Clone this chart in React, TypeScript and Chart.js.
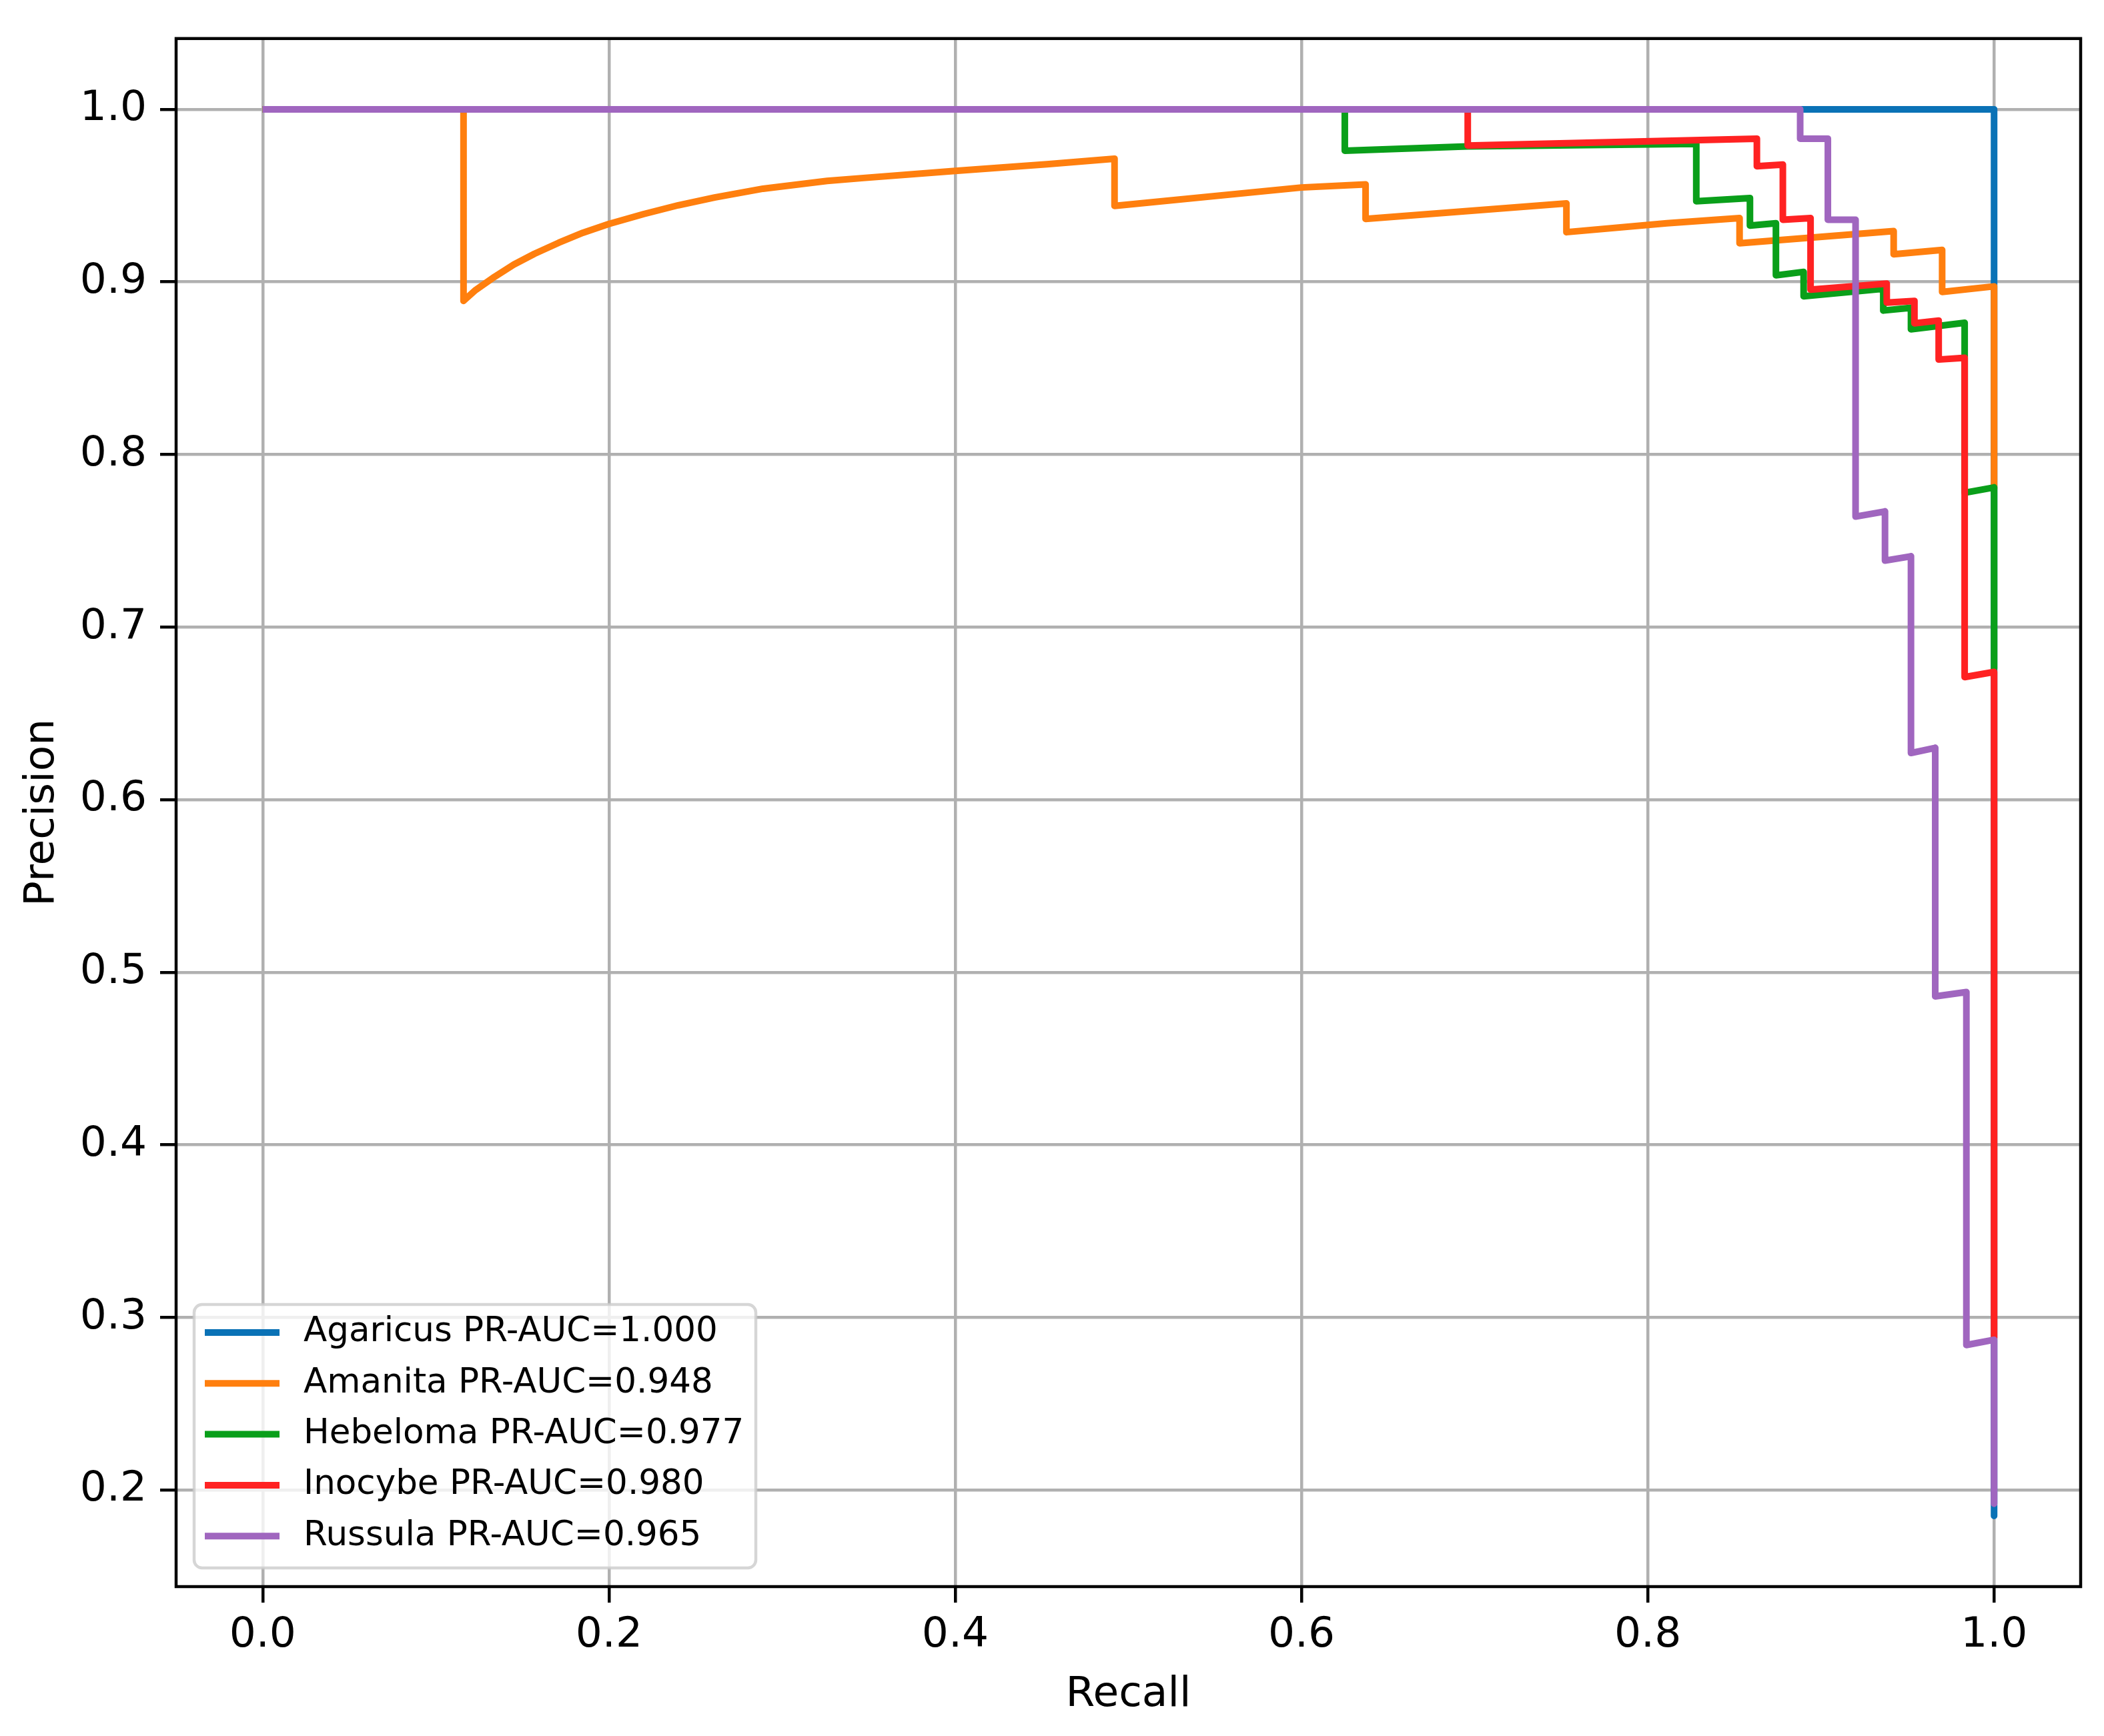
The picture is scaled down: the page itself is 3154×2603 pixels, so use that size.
import React, { useEffect, useRef } from "react";
import { Chart, registerables } from "chart.js";

Chart.register(...registerables);

// axis ticks
const xTicks = [0.0, 0.2, 0.4, 0.6, 0.8, 1.0];
const yTicks = [0.2, 0.3, 0.4, 0.5, 0.6, 0.7, 0.8, 0.9, 1.0];

// series: recall (x) and precision (y)
const agaricusRecall = [0, 1.0, 1.0];
const agaricusPrecision = [1.0, 1.0, 0.185];

const amanitaRecall = [
  0, 0.116, 0.116, 0.123, 0.134, 0.145, 0.157, 0.171, 0.185, 0.2, 0.22, 0.24, 0.261, 0.289, 0.326, 0.347,
  0.4, 0.453, 0.492, 0.492, 0.6, 0.637, 0.637, 0.753, 0.753, 0.811, 0.853, 0.853, 0.942, 0.942, 0.97, 0.97,
  1.0, 1.0,
];
const amanitaPrecision = [
  1.0, 1.0, 0.889, 0.8953, 0.903, 0.91, 0.9163, 0.9227, 0.9285, 0.9336, 0.9393, 0.9444, 0.9489, 0.954, 0.9585,
  0.9602, 0.9643, 0.9682, 0.9714, 0.944, 0.9547, 0.9565, 0.9365, 0.9455, 0.9288, 0.934, 0.937, 0.9224, 0.9294,
  0.916, 0.9185, 0.8942, 0.8974, 0.78,
];

const hebelomaRecall = [
  0, 0.625, 0.625, 0.696, 0.828, 0.828, 0.859, 0.859, 0.874, 0.874, 0.89, 0.89, 0.936, 0.936, 0.952,
  0.952, 0.983, 0.983, 1.0, 1.0,
];
const hebelomaPrecision = [
  1.0, 1.0, 0.976, 0.9785, 0.98, 0.9467, 0.9486, 0.9326, 0.934, 0.9038, 0.9058, 0.8917, 0.896, 0.8834,
  0.885, 0.8725, 0.8763, 0.7778, 0.7809, 0.676,
];

const inocybeRecall = [
  0, 0.696, 0.696, 0.863, 0.863, 0.878, 0.878, 0.894, 0.894, 0.938, 0.938, 0.954, 0.954, 0.968, 0.968,
  0.983, 0.983, 1.0, 1.0,
];
const inocybePrecision = [
  1.0, 1.0, 0.979, 0.983, 0.967, 0.968, 0.936, 0.937, 0.8955, 0.899, 0.888, 0.889, 0.876, 0.8776, 0.855,
  0.856, 0.671, 0.674, 0.288,
];

const russulaRecall = [
  0, 0.888, 0.888, 0.904, 0.904, 0.92, 0.92, 0.937, 0.937, 0.952, 0.952, 0.966, 0.966, 0.984, 0.984, 1.0, 1.0,
];
const russulaPrecision = [
  1.0, 1.0, 0.983, 0.983, 0.936, 0.936, 0.764, 0.767, 0.7385, 0.741, 0.627, 0.63, 0.486, 0.4885, 0.284,
  0.287, 0.192,
];

const seriesNames = [
  "Agaricus PR-AUC=1.000",
  "Amanita PR-AUC=0.948",
  "Hebeloma PR-AUC=0.977",
  "Inocybe PR-AUC=0.980",
  "Russula PR-AUC=0.965",
];
const seriesColors = ["#0a72b6", "#ff7f0e", "#0a9f1a", "#ff2222", "#a066bf"];
const seriesRecall = [agaricusRecall, amanitaRecall, hebelomaRecall, inocybeRecall, russulaRecall];
const seriesPrecision = [agaricusPrecision, amanitaPrecision, hebelomaPrecision, inocybePrecision, russulaPrecision];

const FONT = "'DejaVu Sans', sans-serif";

const framePlugin = {
  id: "frame",
  afterDatasetsDraw(chart: any) {
    const { ctx, chartArea: a } = chart;
    ctx.save();
    ctx.strokeStyle = "#000";
    ctx.lineWidth = 4.5;
    ctx.strokeRect(a.left, a.top, a.right - a.left, a.bottom - a.top);
    ctx.restore();
  },
};

const legendPlugin = {
  id: "boxLegend",
  afterDraw(chart: any) {
    const { ctx, chartArea: a } = chart;
    const w = 842;
    const h = 395;
    const x0 = a.left + 27;
    const y0 = a.bottom - 28 - h;
    const r = 12;
    ctx.save();
    ctx.beginPath();
    ctx.moveTo(x0 + r, y0);
    ctx.lineTo(x0 + w - r, y0);
    ctx.arcTo(x0 + w, y0, x0 + w, y0 + r, r);
    ctx.lineTo(x0 + w, y0 + h - r);
    ctx.arcTo(x0 + w, y0 + h, x0 + w - r, y0 + h, r);
    ctx.lineTo(x0 + r, y0 + h);
    ctx.arcTo(x0, y0 + h, x0, y0 + h - r, r);
    ctx.lineTo(x0, y0 + r);
    ctx.arcTo(x0, y0, x0 + r, y0, r);
    ctx.closePath();
    ctx.fillStyle = "rgba(255,255,255,0.8)";
    ctx.fill();
    ctx.strokeStyle = "rgba(204,204,204,0.8)";
    ctx.lineWidth = 4.5;
    ctx.stroke();

    ctx.font = `51.5px ${FONT}`;
    ctx.textBaseline = "middle";
    ctx.textAlign = "left";
    chart.data.datasets.forEach((ds: any, i: number) => {
      const cy = y0 + 42 + i * 76.3;
      ctx.strokeStyle = ds.borderColor;
      ctx.lineWidth = 10;
      ctx.lineCap = "butt";
      ctx.beginPath();
      ctx.moveTo(x0 + 16, cy);
      ctx.lineTo(x0 + 128, cy);
      ctx.stroke();
      ctx.fillStyle = "#000";
      ctx.fillText(ds.label, x0 + 164, cy);
    });
    ctx.restore();
  },
};

const PRChart: React.FC = () => {
  const canvasRef = useRef<HTMLCanvasElement | null>(null);

  useEffect(() => {
    document.body.style.margin = "0";
    if (!canvasRef.current) return;
    const ctx = canvasRef.current.getContext("2d");
    if (!ctx) return;

    const datasets = seriesNames.map((name, i) => ({
      label: name,
      data: seriesRecall[i].map((r, j) => ({ x: r, y: seriesPrecision[i][j] })),
      borderColor: seriesColors[i],
      backgroundColor: seriesColors[i],
      borderWidth: 10,
      borderJoinStyle: "round" as const,
      pointRadius: 0,
      showLine: true,
      tension: 0,
      order: seriesNames.length - 1 - i,
    }));

    const chart = new Chart(ctx, {
      type: "scatter",
      data: { datasets },
      options: {
        animation: false,
        responsive: false,
        devicePixelRatio: 1,
        layout: { padding: { top: 54, right: 35, left: 0, bottom: 0 } },
        plugins: {
          legend: { display: false },
          tooltip: { enabled: false },
        },
        scales: {
          x: {
            type: "linear",
            min: -0.05,
            max: 1.05,
            afterBuildTicks: (scale: any) => {
              scale.ticks = xTicks.map((v) => ({ value: v }));
            },
            afterFit: (scale: any) => {
              scale.height = 224;
            },
            ticks: {
              autoSkip: false,
              maxRotation: 0,
              padding: 12,
              color: "#000",
              font: { family: FONT, size: 63 },
              callback: (v: any) => Number(v).toFixed(1),
            },
            grid: {
              color: "#b0b0b0",
              lineWidth: 4.5,
              drawTicks: true,
              tickLength: 24,
              tickColor: "#000",
              tickWidth: 4.5,
            },
            border: { display: false },
            title: {
              display: true,
              text: "Recall",
              color: "#000",
              font: { family: FONT, size: 63 },
              padding: { top: 0, bottom: 24 },
            },
          },
          y: {
            type: "linear",
            min: 0.144,
            max: 1.041,
            afterBuildTicks: (scale: any) => {
              scale.ticks = yTicks.map((v) => ({ value: v }));
            },
            afterFit: (scale: any) => {
              scale.width = 264;
            },
            ticks: {
              autoSkip: false,
              padding: 20,
              color: "#000",
              font: { family: FONT, size: 63 },
              callback: (v: any) => Number(v).toFixed(1),
            },
            grid: {
              color: "#b0b0b0",
              lineWidth: 4.5,
              drawTicks: true,
              tickLength: 24,
              tickColor: "#000",
              tickWidth: 4.5,
            },
            border: { display: false },
            title: {
              display: true,
              text: "Precision",
              color: "#000",
              font: { family: FONT, size: 63 },
              padding: { top: 26, bottom: 0 },
            },
          },
        },
      },
      plugins: [framePlugin, legendPlugin],
    });

    return () => {
      chart.destroy();
    };
  }, []);

  return (
    <div style={{ width: 3154, height: 2603, background: "#fff" }}>
      <canvas ref={canvasRef} width={3154} height={2603} />
    </div>
  );
};

export default function App() {
  return <PRChart />;
}
